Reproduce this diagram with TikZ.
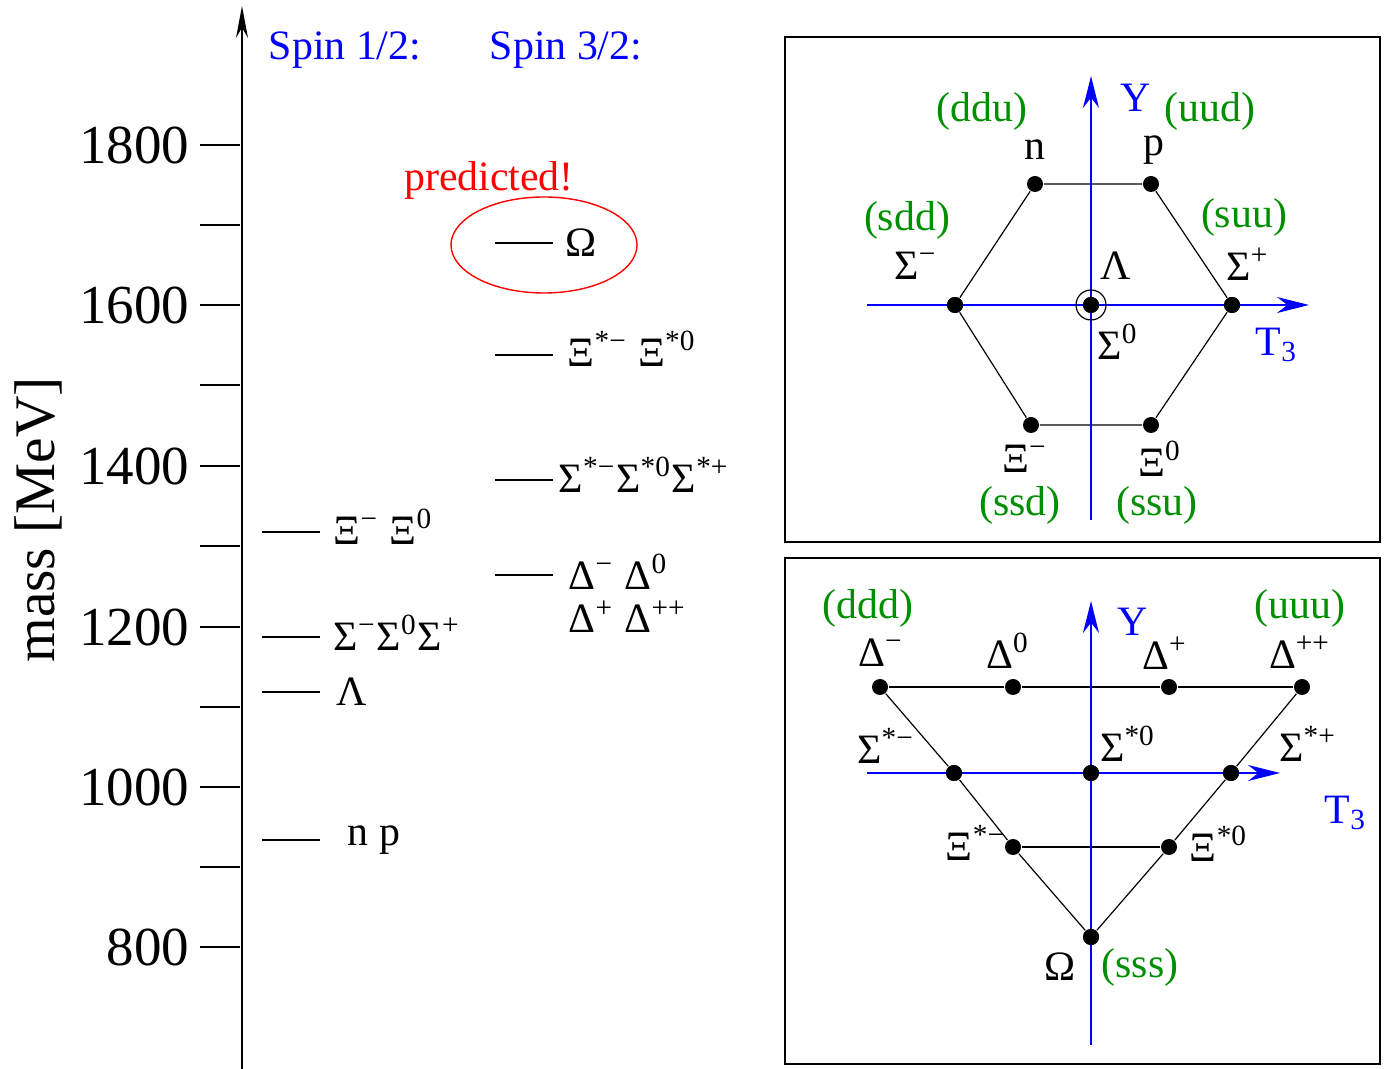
\documentclass[tikz,border=0pt]{standalone}
\usepackage{fontspec}
\setmainfont{Liberation Serif}
\usetikzlibrary{arrows.meta}
\definecolor{quarkgruen}{rgb}{0.0,0.56,0.0}

\tikzset{
  teilchen/.style={circle,fill=black,inner sep=0pt,minimum size=4bp},
  achse/.style={blue,line width=0.5bp,-{Stealth[length=8bp,width=4bp]}},
  quark/.style={quarkgruen,font=\fontsize{10.5}{12}\selectfont},
  bez/.style={font=\fontsize{10.5}{12}\selectfont},
  niveau/.style={line width=0.35bp},
}
\newcommand{\msup}[1]{\textsuperscript{#1}}

\begin{document}
\begin{tikzpicture}[yscale=-1,x=0.25bp,y=0.25bp]
  \useasboundingbox (0,0) rectangle (1384,1069);

  % --- Massenachse ---
  \draw[line width=0.45bp,-{Stealth[length=8bp,width=3bp]}] (242,1069) -- (242,6);
  \foreach \m/\y in {1800/145,1600/305,1400/466,1200/627,1000/787,800/947}{
    \draw[niveau] (200,\y) -- (240,\y);
    \node[anchor=east,inner sep=0pt,font=\fontsize{13.8}{16}\selectfont] (t\m) at (190,\y) {\m};
  }
  \foreach \y in {225,385,546,707,867}
    \draw[niveau] (200,\y) -- (240,\y);
  \node[rotate=90,font=\fontsize{14.4}{16}\selectfont] (masse) at (38,520) {mass [MeV]};

  \node[blue,bez] (spinA) at (345,50) {Spin 1/2:};
  \node[blue,bez] (spinB) at (566,50) {Spin 3/2:};

  % --- Spin 1/2 Niveaus ---
  \draw[niveau] (262,532) -- (320,532);
  \node[bez,anchor=west,inner sep=0pt] (lxi) at (333,527) {Ξ\msup{−} Ξ\msup{0}};
  \draw[niveau] (262,637) -- (320,637);
  \node[bez,anchor=west,inner sep=0pt] (lsig) at (333,633) {Σ\msup{−}Σ\msup{0}Σ\msup{+}};
  \draw[niveau] (262,692) -- (320,692);
  \node[bez,anchor=west,inner sep=0pt] (llam) at (336,692) {Λ};
  \draw[niveau] (262,840) -- (320,840);
  \node[bez,anchor=west,inner sep=0pt] (lnp) at (347,840) {n p};

  % --- Spin 3/2 Niveaus ---
  \draw[niveau] (495,243) -- (553,243);
  \node[bez,anchor=west,inner sep=0pt] (lom) at (565,243) {Ω};
  \draw[niveau] (495,355) -- (553,355);
  \node[bez,anchor=west,inner sep=0pt] (lxis) at (567,349) {Ξ\msup{*−} Ξ\msup{*0}};
  \draw[niveau] (495,480) -- (553,480);
  \node[bez,anchor=west,inner sep=0pt] (lsigs) at (558,475) {Σ\msup{*−}Σ\msup{*0}Σ\msup{*+}};
  \draw[niveau] (495,575) -- (553,575);
  \node[bez,anchor=north west,align=left,inner sep=0pt] (ldel) at (568,553)
    {Δ\msup{−} Δ\msup{0}\\[-1pt]Δ\msup{+} Δ\msup{++}};

  \node[red,bez] (pred) at (489,180) {predicted!};
  \draw[red,line width=0.35bp] (544,245) ellipse [x radius=93, y radius=48];

  % ======================================================================
  % Oktett (Spin 1/2)
  % ======================================================================
  \draw[line width=0.35bp] (785,37) rectangle (1380,542);

  \node[teilchen] (n) at (1035,184) {};
  \node[teilchen] (p) at (1151,184) {};
  \node[teilchen] (sigp) at (1232,305) {};
  \node[teilchen] (xinull) at (1151,425) {};
  \node[teilchen] (xim) at (1031,425) {};
  \node[teilchen] (sigm) at (955,305) {};
  \node[teilchen] (lam) at (1091,305) {};

  \draw[line width=0.3bp] (n) -- (p) -- (sigp) -- (xinull) -- (xim) -- (sigm) -- (n);
  \coordinate (yA0) at (1091,520);
  \coordinate (yA1) at (1091,76);
  \coordinate (tA0) at (867,305);
  \coordinate (tA1) at (1309,305);
  \draw[achse] (yA0) -- (yA1);
  \draw[achse] (tA0) -- (tA1);
  \node[teilchen] at (lam) {};
  \node[teilchen] at (sigm) {};
  \node[teilchen] at (sigp) {};
  \draw[line width=0.3bp] (lam) circle [radius=15];

  \node[blue,bez] (yA) at (1136,98) {Y};
  \node[blue,bez] (tA) at (1277,345) {T\textsubscript{3}};
  \node[quark] (qn) at (982,111) {(ddu)};
  \node[quark] (qp) at (1210,111) {(uud)};
  \node[bez] (ln) at (1035,150) {n};
  \node[bez] (lp) at (1154,150) {p};
  \node[quark] (qsigm) at (907,220) {(sdd)};
  \node[quark] (qsigp) at (1244,217) {(suu)};
  \node[bez] (nsigm) at (916,266) {Σ\msup{−}};
  \node[bez] (nlam) at (1116,266) {Λ};
  \node[bez] (nsigp) at (1248,264) {Σ\msup{+}};
  \node[bez] (nsig0) at (1118,342) {Σ\msup{0}};
  \node[bez] (nxim) at (1025,459) {Ξ\msup{−}};
  \node[bez] (nxi0) at (1160,459) {Ξ\msup{0}};
  \node[quark] (qxim) at (1020,505) {(ssd)};
  \node[quark] (qxi0) at (1157,505) {(ssu)};

  % ======================================================================
  % Dekuplett (Spin 3/2)
  % ======================================================================
  \draw[line width=0.35bp] (785,558) rectangle (1380,1064);

  \node[teilchen] (dm) at (880,687) {};
  \node[teilchen] (dnull) at (1013,687) {};
  \node[teilchen] (dp) at (1169,687) {};
  \node[teilchen] (dpp) at (1302,687) {};
  \node[teilchen] (ssm) at (954,773) {};
  \node[teilchen] (ssnull) at (1091,773) {};
  \node[teilchen] (ssp) at (1231,773) {};
  \node[teilchen] (xsm) at (1013,847) {};
  \node[teilchen] (xsnull) at (1169,847) {};
  \node[teilchen] (om) at (1091,937) {};

  \draw[line width=0.3bp] (dm) -- (dnull) -- (dp) -- (dpp);
  \draw[line width=0.3bp] (dm) -- (ssm) -- (xsm) -- (om) -- (xsnull) -- (ssp) -- (dpp);
  \draw[line width=0.3bp] (xsm) -- (xsnull);
  \draw[line width=0.5bp] (ssm) -- (ssnull) -- (ssp);
  \coordinate (yB0) at (1091,1045);
  \coordinate (yB1) at (1091,601);
  \coordinate (tB0) at (867,773);
  \coordinate (tB1) at (1280,773);
  \draw[achse] (yB0) -- (yB1);
  \draw[achse] (tB0) -- (tB1);
  \foreach \t in {ssm,ssnull,ssp,om}
    \node[teilchen] at (\t) {};

  \node[blue,bez] (yB) at (1133,622) {Y};
  \node[blue,bez] (tB) at (1346,813) {T\textsubscript{3}};
  \node[quark] (qdm) at (868,608) {(ddd)};
  \node[quark] (qdpp) at (1300,608) {(uuu)};
  \node[bez] (ndm) at (881,653) {Δ\msup{−}};
  \node[bez] (ndnull) at (1008,651) {Δ\msup{0}};
  \node[bez] (ndp) at (1165,653) {Δ\msup{+}};
  \node[bez] (ndpp) at (1300,652) {Δ\msup{++}};
  \node[bez] (nssm) at (886,746) {Σ\msup{*−}};
  \node[bez] (nssnull) at (1128,744) {Σ\msup{*0}};
  \node[bez] (nssp) at (1308,744) {Σ\msup{*+}};
  \node[bez] (nxsm) at (976,843) {Ξ\msup{*−}};
  \node[bez] (nxsnull) at (1219,844) {Ξ\msup{*0}};
  \node[bez] (nom) at (1060,967) {Ω};
  \node[quark] (qom) at (1140,967) {(sss)};

\end{tikzpicture}
\end{document}
